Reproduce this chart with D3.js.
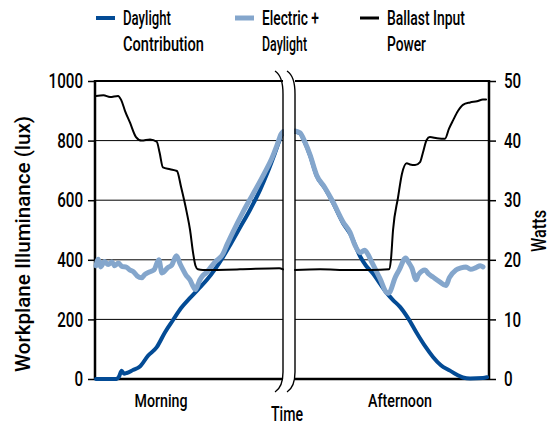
<!DOCTYPE html>
<html><head><meta charset="utf-8">
<script src="https://cdn.jsdelivr.net/npm/d3@7"></script>
<style>
html,body{margin:0;padding:0;background:#fff;}
text{font-family:Roboto,"Liberation Sans",Arial,sans-serif;font-weight:500;fill:#000;}
</style></head>
<body><svg id="c" width="552" height="431"></svg>
<script>
// ---- data (time units 0..100 within each half; lux on left axis, watts on right) ----
const luxTicks = [0,200,400,600,800,1000];
const wattTicks = [0,10,20,30,40,50];
const periods = ["Morning","Afternoon"];
const legendLabels = [["Daylight","Contribution"],["Electric +","Daylight"],["Ballast Input","Power"]];

const morningDaylight = [[0,0],[11,0],[12.3,8],[13.7,28],[15,18],[16.4,20],[19.8,30],[23.5,42],[27.8,78],[32.5,107],[37,158],[41.2,198],[45.5,238],[50.3,272],[54.5,300],[59.2,332],[63.6,368],[67.9,409],[72.2,455],[77,508],[82.4,568],[87.7,634],[92,697],[95.7,758],[99,815],[100,828]];
const morningElectric = [[0,380],[1.2,402],[2.5,376],[4.5,394],[6.5,384],[8.5,393],[10,380],[12,389],[14,377],[16,376],[18,366],[20,360],[22,346],[24.5,340],[26,350],[28.5,359],[31,366],[33.6,400],[35.3,356],[38.5,374],[40.5,382],[43,414],[45,386],[46.6,366],[48,350],[50.3,332],[52,310],[53,300],[54.2,312],[55.6,333],[57,346],[59.2,358],[61,372],[63.6,392],[67.9,420],[70,450],[73.3,494],[78.6,560],[81,588],[85.7,640],[90,690],[94,740],[97,788],[99,822],[100,830]];
const morningPower = [[0,47.5],[4,47.6],[7.5,47.3],[11.8,47.5],[13.5,46.8],[15.5,45],[18.2,43],[21.4,40.6],[24.4,40],[28.9,40.2],[32.5,39.8],[34,38],[35.8,35.5],[39.6,35.2],[43.3,34.9],[45.5,32.2],[48.5,28],[50.3,25],[51.9,21.2],[53.2,19],[54.5,18.4],[57.2,18.3],[77,18.4],[98,18.6],[100,18.4]];

const afternoonDaylight = [[0,830],[2.6,824],[5.2,792],[7.8,750],[11.2,682],[15.5,640],[19.7,591],[24.9,523],[28.5,488],[33.7,412],[36.8,380],[40.4,354],[44,320],[47.5,289],[50.8,265],[54.4,242],[58.5,205],[63,155],[67.4,110],[71.5,74],[75.6,46],[80.3,28],[83.9,14],[87,5],[90.7,2],[97.4,3],[99.5,6]];
const afternoonElectric = [[0,832],[2.6,826],[5.2,794],[7.8,752],[11.2,684],[15.5,642],[19.7,594],[24.9,527],[28.5,492],[31,450],[33.7,424],[36,432],[38,416],[39.2,400],[41.8,366],[44,338],[47.5,290],[48.5,288],[52,342],[54,366],[57.3,406],[59,390],[60.6,372],[62.7,333],[64,350],[67.4,366],[69,354],[71.5,342],[75,326],[78.2,314],[80,340],[83.4,366],[86,373],[88.6,376],[91,368],[93.8,374],[96,380],[97.4,376]];
const afternoonPower = [[0,18.3],[13,18.4],[28.5,18.3],[40,18.3],[48.7,18.4],[49.7,20],[50.8,25],[53.4,30.5],[55.4,34.4],[57.9,36.2],[59.6,36],[62.2,35.9],[64.8,36.4],[66.3,38],[68.2,40.1],[69.9,40.6],[73.6,40.4],[77.7,40.3],[79.8,42],[81.9,43.4],[84.5,45],[87,46],[90.7,46.4],[94.3,46.6],[97.4,46.9],[99,46.9]];

// ---- layout ----
const svg = d3.select("#c");
const L = 95, R = 489, T = 81, B = 379, gapL = 283, gapR = 295;
const y = d3.scaleLinear().domain([0,1000]).range([B,T]);
const y2 = d3.scaleLinear().domain([0,50]).range([B,T]);
const xM = d3.scaleLinear().domain([0,100]).range([96,283]);
const xA = d3.scaleLinear().domain([0,100]).range([295,488]);
const colDay = "#034b95", colElec = "#84a6cc", colPow = "#000";

function fit(sel, w){ sel.attr("textLength", w).attr("lengthAdjust","spacingAndGlyphs"); return sel; }

// gridlines
const grid = svg.append("g");
[[L,gapL],[gapR,R]].forEach(([a,b])=>{
  grid.selectAll(null).data(luxTicks.filter(d=>d>0 && d<1000)).enter().append("line")
    .attr("x1",a).attr("x2",b).attr("y1",d=>y(d)).attr("y2",d=>y(d))
    .attr("stroke","#000").attr("stroke-width",1);
  grid.append("line").attr("x1",a).attr("x2",b).attr("y1",y(1000)).attr("y2",y(1000)).attr("stroke","#000").attr("stroke-width",2);
  grid.append("line").attr("x1",a).attr("x2",b).attr("y1",y(0)).attr("y2",y(0)).attr("stroke","#000").attr("stroke-width",2.5);
});

// axes
const axL = svg.append("g").attr("transform",`translate(${L},0)`)
  .call(d3.axisLeft(y).tickValues(luxTicks).tickFormat(d3.format("d")).tickSize(7).tickPadding(5));
const axR = svg.append("g").attr("transform",`translate(${R},0)`)
  .call(d3.axisRight(y2).tickValues(wattTicks).tickFormat(d3.format("d")).tickSize(7).tickPadding(8));
[axL,axR].forEach(a=>{
  a.select(".domain").attr("stroke","#000").attr("stroke-width",2.5).attr("d",`M0,${T-1}V${B+1}`);
  a.selectAll(".tick line").attr("stroke","#000").attr("stroke-width",1.5);
  a.selectAll(".tick text").attr("font-size",21).attr("font-family",null).attr("fill","#000");
});
axL.selectAll(".tick text").each(function(d){ fit(d3.select(this), String(d).length*8.6); });
axR.selectAll(".tick text").each(function(d){ fit(d3.select(this), String(d).length*8.6); });

// lines
const lineM = d3.line().x(d=>xM(d[0])).y(d=>y(d[1])).curve(d3.curveMonotoneX);
const lineA = d3.line().x(d=>xA(d[0])).y(d=>y(d[1])).curve(d3.curveMonotoneX);
const lineM2 = d3.line().x(d=>xM(d[0])).y(d=>y2(d[1])).curve(d3.curveMonotoneX);
const lineA2 = d3.line().x(d=>xA(d[0])).y(d=>y2(d[1])).curve(d3.curveMonotoneX);
const lines = svg.append("g").attr("fill","none").attr("stroke-linecap","round").attr("stroke-linejoin","round");
[[morningDaylight,lineM],[afternoonDaylight,lineA]].forEach(([d,g])=>lines.append("path").attr("d",g(d)).attr("stroke",colDay).attr("stroke-width",4));
[[morningElectric,lineM],[afternoonElectric,lineA]].forEach(([d,g])=>lines.append("path").attr("d",g(d)).attr("stroke",colElec).attr("stroke-width",5));
[[morningPower,lineM2],[afternoonPower,lineA2]].forEach(([d,g])=>lines.append("path").attr("d",g(d)).attr("stroke",colPow).attr("stroke-width",2));

// axis break brackets
svg.append("rect").attr("x",gapL+1).attr("y",70).attr("width",gapR-gapL-2).attr("height",322).attr("fill","#fff");
[gapL, gapR].forEach(xx=>{
  svg.append("path").attr("d",`M${xx-8},71 Q${xx},76 ${xx},94 L${xx},372 Q${xx},387 ${xx-8},392`)
    .attr("fill","none").attr("stroke","#000").attr("stroke-width",1.4);
});

// axis titles and period labels
fit(svg.append("text").attr("transform","translate(30,244) rotate(-90)").attr("text-anchor","middle").attr("font-size",21).text("Workplane Illuminance (lux)"),256);
fit(svg.append("text").attr("transform","translate(546,231) rotate(-90)").attr("text-anchor","middle").attr("font-size",21).text("Watts"),42);
fit(svg.append("text").attr("x",287).attr("y",421).attr("text-anchor","middle").attr("font-size",21).text("Time"),32);
const pw = [53,64], px = [161,400];
periods.forEach((p,i)=>fit(svg.append("text").attr("x",px[i]).attr("y",407).attr("text-anchor","middle").attr("font-size",19).text(p),pw[i]));

// legend
const legX = [96,235,360], legCol = [colDay,colElec,colPow], legW = [4,5,3];
const legTW = [[48,81],[57,45],[78,39]];
legendLabels.forEach((lab,i)=>{
  svg.append("line").attr("x1",legX[i]).attr("x2",legX[i]+19).attr("y1",18).attr("y2",18).attr("stroke",legCol[i]).attr("stroke-width",legW[i]);
  lab.forEach((t,j)=>fit(svg.append("text").attr("x",legX[i]+27).attr("y",25+j*26).attr("font-size",21).text(t),legTW[i][j]));
});
</script></body></html>
